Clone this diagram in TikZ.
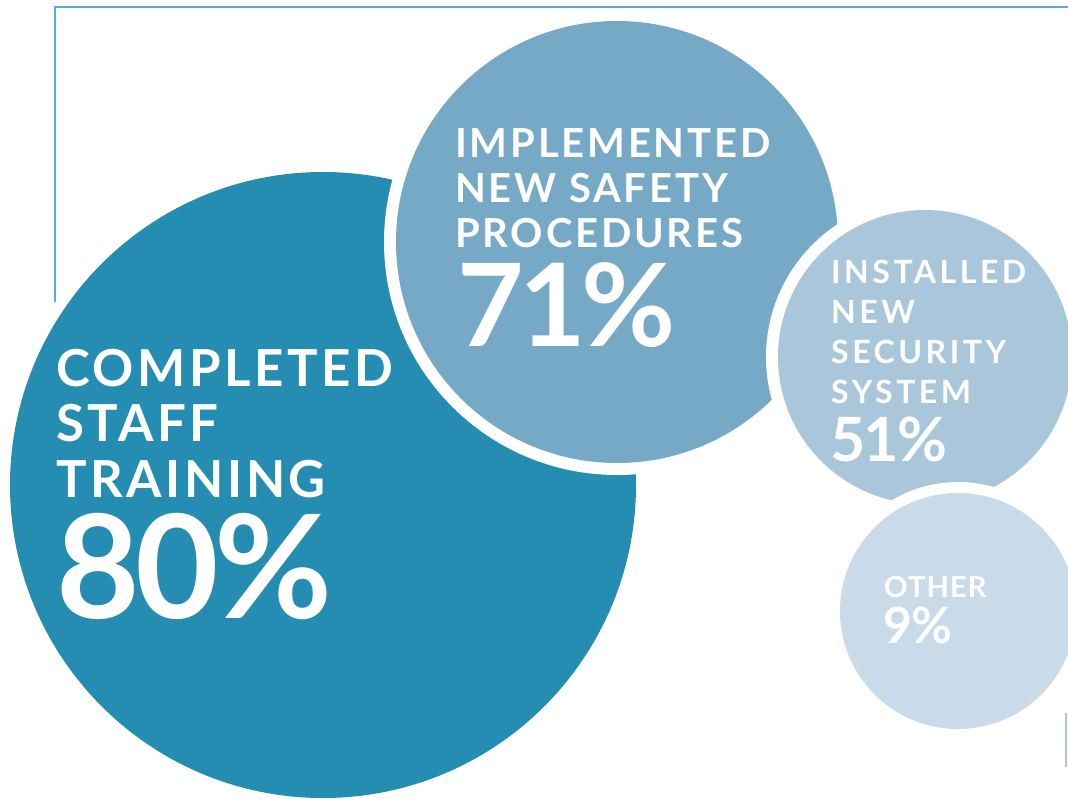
\documentclass[tikz,border=0pt]{standalone}
\usepackage{fontspec}
\setmainfont{Lato}

\definecolor{bubbleA}{HTML}{258DB2}
\definecolor{bubbleB}{HTML}{75A9C6}
\definecolor{bubbleC}{HTML}{A9C6DB}
\definecolor{bubbleD}{HTML}{C9DBE8}
\definecolor{frameblue}{HTML}{5AABD0}

% size, leading, tracking
\newcommand{\bubblefont}[3]{\fontsize{#1}{#2}\selectfont\bfseries\addfontfeature{LetterSpace=#3}}

\begin{document}
\begin{tikzpicture}[x=1pt,y=-1pt,
  bubbletext/.style={anchor=north west,inner sep=0pt,align=left,text=white},
  gap/.style={fill=white}]
\clip (0,0) rectangle (1068,798);

% Draw the frame lines
\coordinate (frameend) at (1068,7);
\coordinate (framecorner) at (55,7);
\coordinate (framefoot) at (55,302);
\draw[frameblue,line width=1.7pt] (frameend) -- (framecorner) -- (framefoot);

% Draw the bubbles, each with a white gap around it
\fill[bubbleA] (323,485) circle (313pt);
\fill[gap] (617,242) circle (233pt);
\fill[bubbleB] (617,242) circle (221pt);
\fill[gap] (925,357) circle (159pt);
\fill[bubbleC] (925,357) circle (147pt);
\fill[gap] (958,611) circle (129pt);
\fill[bubbleD] (958,611) circle (118pt);

% Small mark bottom right
\coordinate (marktop) at (1066,713);
\coordinate (markfoot) at (1066,767);
\draw[bubbleC,line width=2.5pt] (marktop) -- (markfoot);

% Labels
\node[bubbletext,font=\bubblefont{51}{55.5}{7}] (traininglabel) at (56,349) {COMPLETED\\STAFF\\TRAINING};
\node[bubbletext,font=\bubblefont{144}{144}{-3}] (trainingvalue) at (56,513) {80\%};

\node[bubbletext,font=\bubblefont{40}{45}{7}] (safetylabel) at (455,128) {IMPLEMENTED\\NEW SAFETY\\PROCEDURES};
\node[bubbletext,font=\bubblefont{115}{115}{-4}] (safetyvalue) at (457,262) {71\%};

\node[bubbletext,font=\bubblefont{32}{40}{11}] (securitylabel) at (831,260) {INSTALLED\\NEW\\SECURITY\\SYSTEM};
\node[bubbletext,font=\bubblefont{61}{61}{-3}] (securityvalue) at (830,417) {51\%};

\node[bubbletext,font=\bubblefont{29}{29}{4}] (otherlabel) at (884,576) {OTHER};
\node[bubbletext,font=\bubblefont{50}{50}{-2}] (othervalue) at (883,607) {9\%};

\end{tikzpicture}
\end{document}
